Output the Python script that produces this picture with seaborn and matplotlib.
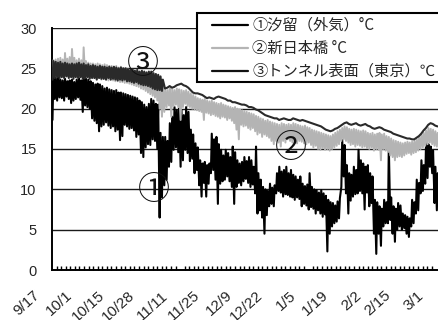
import numpy as np
import pandas as pd
import matplotlib
matplotlib.use("Agg")
import matplotlib.pyplot as plt
import matplotlib.dates as mdates
from matplotlib.lines import Line2D
from matplotlib.patches import Rectangle
import seaborn as sns

# ---- data -------------------------------------------------------------
start_date = "2006-09-17"

series_labels = ["①汐留（外気）°C", "②新日本橋 °C", "③トンネル表面（東京）℃"]

# ① outside air (Shiodome): daily max / min, one value per day from 9/17
shiodome_max = [
    24.0, 23.8, 23.9, 23.6, 23.5, 23.7, 23.4, 23.5, 23.6, 23.3,
    23.6, 23.8, 23.5, 24.0, 23.7, 23.6, 23.4, 23.2, 23.0, 23.1,
    23.0, 22.8, 22.5, 22.6, 22.4, 22.3, 22.2, 22.3, 22.0, 22.0,
    21.9, 21.8, 21.7, 21.6, 21.5, 21.4, 21.3, 21.0, 20.8, 20.5,
    20.2, 20.6, 21.2, 21.0, 20.6, 20.5, 17.0, 16.5, 16.5, 16.0,
    18.2, 19.0, 20.2, 19.8, 20.0, 19.8, 19.2, 20.2, 19.6, 17.4,
    16.8, 15.7, 15.2, 13.6, 13.2, 13.4, 13.0, 13.2, 16.9, 16.2,
    16.5, 15.6, 14.9, 14.2, 14.9, 14.5, 14.0, 15.3, 14.6, 13.6,
    13.2, 13.4, 14.0, 13.5, 14.0, 13.6, 12.8, 15.3, 12.0, 11.2,
    10.3, 10.0, 9.8, 10.7, 10.2, 10.5, 12.0, 12.8, 12.2, 12.4,
    12.8, 12.0, 12.4, 11.8, 11.6, 11.2, 11.6, 10.7, 10.4, 10.6,
    12.0, 10.3, 10.0, 9.9, 9.6, 9.9, 9.5, 9.2, 8.7, 8.4,
    8.3, 8.0, 8.5, 8.9, 16.1, 15.5, 13.0, 12.0, 11.8, 12.8,
    12.4, 14.9, 13.6, 13.2, 12.8, 13.0, 12.0, 11.6, 8.7, 8.4,
    7.9, 7.6, 8.7, 8.4, 15.4, 9.0, 7.9, 7.6, 8.3, 8.0,
    7.0, 6.8, 6.6, 6.4, 8.7, 8.4, 11.2, 10.8, 13.6, 13.0,
    16.1, 15.6, 15.3, 14.8, 12.8, 12.0,
]
shiodome_min = [
    18.6, 21.2, 21.0, 21.4, 21.3, 21.0, 21.5, 21.2, 20.7, 21.0,
    21.2, 21.4, 21.1, 19.6, 20.4, 20.2, 20.0, 18.8, 18.5, 18.2,
    17.2, 17.8, 18.0, 18.3, 17.9, 17.6, 17.8, 17.2, 17.4, 16.1,
    16.6, 18.0, 17.8, 17.5, 17.6, 17.3, 16.5, 16.8, 14.5, 14.0,
    15.2, 15.6, 15.5, 16.2, 16.0, 15.0, 6.5, 9.0, 10.5, 11.2,
    12.8, 13.4, 14.9, 15.2, 14.6, 12.8, 13.6, 14.9, 14.5, 13.5,
    13.8, 12.0, 12.4, 10.5, 9.1, 10.8, 9.1, 10.7, 12.0, 12.4,
    11.2, 8.2, 10.7, 11.0, 11.2, 11.6, 11.0, 10.3, 8.2, 10.3,
    10.8, 10.5, 11.0, 11.3, 10.8, 10.3, 10.6, 9.5, 7.0, 7.4,
    6.5, 4.5, 6.8, 7.9, 8.2, 7.9, 9.5, 9.8, 9.6, 9.1,
    9.4, 9.3, 9.1, 9.0, 8.7, 9.0, 8.8, 7.9, 8.2, 8.0,
    7.5, 7.8, 7.6, 7.0, 7.4, 7.0, 6.6, 6.9, 2.3, 4.5,
    5.4, 5.8, 6.0, 6.4, 10.3, 11.6, 9.5, 7.0, 8.6, 9.1,
    9.4, 9.5, 9.8, 9.5, 7.5, 9.6, 7.9, 8.3, 4.5, 2.0,
    4.5, 3.0, 5.4, 5.8, 5.8, 6.2, 4.5, 3.5, 5.0, 5.4,
    5.0, 5.2, 4.5, 4.1, 5.4, 5.8, 7.0, 7.4, 9.5, 9.8,
    10.7, 11.4, 12.8, 12.0, 8.3, 7.4,
]

# ② Shin-Nihonbashi: daily max / min
nihonbashi_max = [
    26.0, 26.1, 26.2, 26.3, 26.1, 26.9, 26.2, 26.4, 27.4, 26.3,
    26.0, 26.2, 26.0, 27.6, 25.9, 25.7, 25.6, 25.6, 25.5, 25.6,
    25.5, 25.4, 25.5, 25.4, 25.3, 25.3, 25.2, 25.3, 25.1, 25.2,
    25.0, 25.0, 24.9, 24.8, 24.8, 24.7, 24.6, 24.5, 24.4, 24.3,
    24.2, 24.1, 24.0, 23.8, 23.6, 23.4, 23.0, 22.6, 22.4, 22.3,
    22.5, 22.4, 22.3, 22.5, 22.4, 22.3, 22.2, 22.3, 22.1, 21.9,
    21.7, 21.5, 21.3, 21.2, 21.1, 21.2, 21.0, 20.9, 21.0, 20.8,
    20.7, 20.6, 20.7, 20.5, 20.4, 20.3, 20.2, 20.1, 20.2, 20.0,
    19.9, 19.8, 19.7, 19.6, 19.5, 19.4, 19.3, 19.1, 19.0, 18.8,
    18.7, 18.5, 18.6, 18.4, 18.3, 18.2, 18.1, 18.0, 18.2, 18.1,
    18.0, 18.1, 18.0, 18.2, 18.1, 18.0, 17.9, 17.8, 17.9, 17.7,
    17.6, 17.4, 17.3, 17.2, 17.1, 17.0, 16.9, 16.8, 16.7, 16.6,
    16.8, 17.0, 17.2, 17.4, 17.6, 17.8, 17.7, 17.5, 17.4, 17.5,
    17.4, 17.3, 17.2, 17.3, 17.2, 17.0, 16.9, 17.0, 16.8, 16.9,
    17.0, 16.8, 16.9, 16.6, 16.5, 16.3, 16.1, 16.0, 15.9, 15.8,
    15.7, 15.8, 15.9, 15.8, 15.9, 16.0, 16.2, 16.5, 16.8, 17.0,
    17.3, 17.6, 17.5, 17.4, 17.2, 17.0,
]
nihonbashi_min = [
    24.0, 24.1, 24.0, 24.1, 24.0, 24.2, 24.1, 24.0, 24.1, 24.2,
    24.0, 24.1, 23.9, 24.0, 24.0, 23.9, 23.8, 23.9, 23.8, 23.7,
    23.8, 23.6, 23.7, 23.6, 23.5, 23.6, 23.5, 23.4, 23.4, 23.3,
    23.3, 23.2, 23.2, 23.1, 23.0, 22.9, 22.8, 22.7, 22.5, 22.4,
    22.2, 22.0, 21.8, 21.6, 21.4, 21.0, 20.0, 19.0, 19.6, 20.2,
    20.4, 19.0, 20.3, 20.5, 20.2, 18.6, 20.2, 20.6, 20.3, 20.2,
    20.0, 19.9, 19.8, 19.7, 19.6, 18.6, 19.5, 19.4, 19.2, 19.3,
    19.1, 19.0, 18.8, 19.0, 18.9, 18.6, 18.8, 18.5, 18.2, 17.4,
    16.2, 18.0, 17.8, 17.9, 17.6, 17.4, 17.6, 17.2, 16.8, 17.0,
    16.5, 16.8, 16.6, 16.4, 16.0, 15.6, 16.0, 15.8, 15.3, 16.0,
    15.8, 16.2, 16.0, 15.8, 16.1, 15.7, 16.0, 15.9, 15.7, 15.6,
    15.8, 15.5, 15.2, 15.4, 15.0, 14.9, 15.1, 14.9, 15.0, 14.8,
    15.0, 15.2, 15.4, 15.6, 16.0, 16.2, 16.0, 15.8, 15.5, 15.6,
    15.3, 15.5, 15.4, 15.2, 15.3, 15.1, 15.0, 15.2, 14.8, 15.0,
    14.9, 13.6, 15.0, 14.8, 14.6, 14.2, 14.0, 13.6, 14.0, 14.1,
    14.0, 14.2, 14.4, 14.5, 14.3, 14.5, 14.6, 14.8, 15.0, 15.2,
    15.4, 15.6, 15.8, 15.6, 15.4, 15.3,
]

# ③ tunnel surface (Tokyo): hourly spread for the first weeks, daily after
tunnel_band_max = [
    25.9, 25.8, 25.7, 25.8, 25.6, 25.7, 25.6, 25.5, 25.6, 25.5,
    25.6, 25.7, 25.5, 25.6, 25.4, 25.5, 25.3, 25.4, 25.3, 25.2,
    25.3, 25.2, 25.2, 25.1, 25.2, 25.1, 25.2, 25.1, 25.0, 25.1,
    25.0, 25.0, 24.9, 24.8, 24.9, 24.7, 24.8, 24.6, 24.7, 24.6,
    24.5, 24.6, 24.6, 24.4, 24.3, 24.2, 24.0, 23.6,
]
tunnel_band_min = [
    23.6, 23.8, 23.9, 23.8, 23.9, 23.8, 24.0, 23.8, 23.9, 23.7,
    23.9, 23.8, 23.9, 23.7, 23.8, 23.9, 23.7, 23.8, 23.8, 23.6,
    23.8, 23.7, 23.7, 23.6, 23.8, 23.6, 23.7, 23.6, 23.5, 23.6,
    23.5, 23.6, 23.4, 23.4, 23.3, 23.2, 23.3, 23.1, 23.0, 22.9,
    22.9, 22.8, 22.7, 22.5, 22.4, 22.3, 22.3, 22.2,
]
tunnel_daily = [
    22.5, 22.6, 22.8, 22.6, 22.7, 22.9, 23.0, 23.1, 22.9, 22.8,
    22.6, 22.3, 22.0, 21.9, 21.9, 21.8, 21.7, 21.5, 21.3, 21.4,
    21.3, 21.2, 21.4, 21.5, 21.4, 21.3, 21.2, 21.0, 21.0, 20.8,
    20.8, 20.7, 20.6, 20.5, 20.5, 20.4, 20.2, 20.2, 20.1, 19.9,
    19.8, 19.6, 19.4, 19.2, 19.1, 19.0, 18.9, 18.8, 18.8, 18.6,
    18.7, 18.8, 18.7, 18.6, 18.6, 18.8, 18.7, 18.6, 18.5, 18.6,
    18.5, 18.4, 18.3, 18.2, 18.1, 18.0, 17.9, 17.8, 17.6, 17.4,
    17.3, 17.2, 17.3, 17.5, 17.6, 17.8, 18.0, 18.2, 18.3, 18.1,
    18.0, 18.1, 18.2, 18.0, 17.9, 18.0, 18.1, 17.9, 17.8, 17.6,
    17.5, 17.6, 17.7, 17.6, 17.4, 17.3, 17.2, 17.1, 16.9, 16.8,
    16.7, 16.6, 16.5, 16.4, 16.3, 16.3, 16.2, 16.2, 16.4, 16.6,
    16.9, 17.3, 17.6, 18.0, 18.2, 18.1, 17.9, 17.8,
]

tick_dates = [
    "2006-09-17", "2006-10-01", "2006-10-15", "2006-10-28", "2006-11-11",
    "2006-11-25", "2006-12-09", "2006-12-22", "2007-01-05", "2007-01-19",
    "2007-02-02", "2007-02-15", "2007-03-01",
]

# ---- long-form tables ---------------------------------------------------
t0 = pd.Timestamp(start_date)


def extremes_rows(highs, lows, first_day=0):
    """Each day as its early-morning low followed by its afternoon high."""
    times, temps = [], []
    for i, (hi, lo) in enumerate(zip(highs, lows)):
        day = t0 + pd.Timedelta(days=first_day + i)
        times += [day + pd.Timedelta(hours=5), day + pd.Timedelta(hours=14)]
        temps += [lo, hi]
    return times, temps


t1, v1 = extremes_rows(shiodome_max, shiodome_min)
df1 = pd.DataFrame({"time": t1, "temp": v1})

t2, v2 = extremes_rows(nihonbashi_max, nihonbashi_min)
df2 = pd.DataFrame({"time": t2, "temp": v2})

t3, v3 = extremes_rows(tunnel_band_max, tunnel_band_min)
n_band = len(tunnel_band_max)
t3 += [t0 + pd.Timedelta(days=n_band + i, hours=12) for i in range(len(tunnel_daily))]
v3 += tunnel_daily
df3 = pd.DataFrame({"time": t3, "temp": v3})

# ---- figure -------------------------------------------------------------
sns.set_theme(style="white")
plt.rcParams["font.family"] = ["Noto Sans CJK JP", "DejaVu Sans"]
num_font = ["Liberation Sans", "DejaVu Sans"]

W, H = 438, 320
fig = plt.figure(figsize=(W / 100, H / 100), dpi=100)
ax = fig.add_axes([52 / W, 50 / H, (W - 52) / W, 242 / H])

colors = ["#000000", "#b4b4b4", "#2a2a2a"]
sns.lineplot(data=df1, x="time", y="temp", color=colors[0], lw=1.5,
             estimator=None, legend=False, ax=ax, zorder=3)
sns.lineplot(data=df2, x="time", y="temp", color=colors[1], lw=1.4,
             estimator=None, legend=False, ax=ax, zorder=4)
sns.lineplot(data=df3, x="time", y="temp", color=colors[2], lw=1.5,
             estimator=None, legend=False, ax=ax, zorder=5)

ax.set_xlim(t0, t0 + pd.Timedelta(days=165.7))
ax.set_ylim(0, 30)
ax.set_xlabel("")
ax.set_ylabel("")

# y axis
ax.set_yticks(range(0, 31, 5))
ax.yaxis.grid(True, color="#1a1a1a", lw=1.0)
ax.set_axisbelow(True)
ax.tick_params(axis="y", length=0, pad=11, labelsize=10.5)
for lab in ax.get_yticklabels():
    lab.set_fontfamily(num_font)

# x axis: date labels hang diagonally below each date
tick_ts = pd.to_datetime(tick_dates)
ax.set_xticks(tick_ts)
ax.set_xticklabels([])
ax.tick_params(axis="x", which="major", length=0)
minor_locs = mdates.date2num(t0) + np.arange(0, 166, 13.75 / 7)
ax.xaxis.set_minor_locator(matplotlib.ticker.FixedLocator(minor_locs))
ax.tick_params(axis="x", which="minor", direction="in", length=3,
               width=1.0, color="black", bottom=True)
for d in tick_ts:
    ax.annotate(f"{d.month}/{d.day}", xy=(mdates.date2num(d), 0),
                xycoords=ax.get_xaxis_transform(),
                xytext=(-10.5, -17.0), textcoords="offset points",
                rotation=42, rotation_mode="anchor", ha="right", va="center",
                fontsize=11, family=num_font, annotation_clip=False)

for side in ["top", "right"]:
    ax.spines[side].set_visible(False)
for side in ["left", "bottom"]:
    ax.spines[side].set_color("black")
    ax.spines[side].set_linewidth(1.4)

# circled series markers
marker_pos = [("①", 43.8, 9.9), ("②", 102.6, 15.1), ("③", 39.0, 25.5)]
for txt, d, v in marker_pos:
    ax.text(mdates.date2num(t0 + pd.Timedelta(days=d)), v, txt,
            ha="center", va="center", fontsize=23, color="#111111", zorder=6,
            family=["Noto Sans CJK JP", "DejaVu Sans"])

# legend box with line samples
fig.patches.append(Rectangle((197 / W, 1 - 82 / H), 260 / W, 69 / H,
                             transform=fig.transFigure, facecolor="white",
                             edgecolor="black", lw=1.5, zorder=8))
legend_colors = [colors[0], colors[1], "#111111"]
for k, (lab, c) in enumerate(zip(series_labels, legend_colors)):
    yc = 1 - (25 + 23 * k) / H
    fig.add_artist(Line2D([212 / W, 248 / W], [yc, yc], color=c, lw=1.6,
                          transform=fig.transFigure, zorder=9))
    fig.text(252 / W, yc, lab, ha="left", va="center", fontsize=11,
             zorder=9)

fig.savefig("out.png", dpi=100, facecolor="white")
